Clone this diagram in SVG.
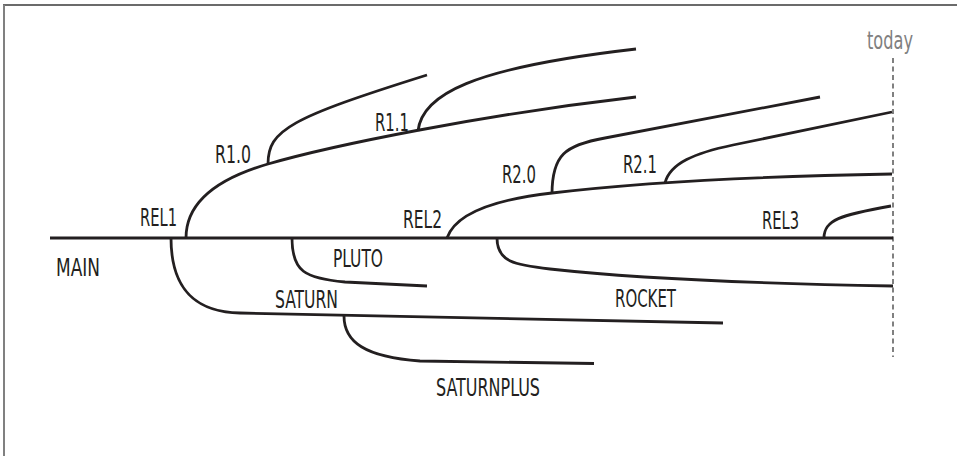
<svg xmlns="http://www.w3.org/2000/svg" width="957" height="456" viewBox="0 0 957 456">
  <style>
    .branch { fill: none; stroke: #231f20; stroke-width: 2.8; stroke-linecap: butt; }
    .lbl { font-family: "Liberation Sans Narrow", "DejaVu Sans Condensed", "Liberation Sans", sans-serif; font-size: 25px; fill: #231f20; }
    .today { font-family: "Liberation Sans Narrow", "DejaVu Sans Condensed", "Liberation Sans", sans-serif; font-size: 24px; fill: #808080; }
    .frame-top { stroke: #3a3a3a; stroke-width: 1.6; }
    .frame-left { stroke: #808080; stroke-width: 2; }
    .timeline { stroke: #808080; stroke-width: 2; stroke-dasharray: 5 3.5; fill: none; }
  </style>
  <rect width="957" height="456" fill="#ffffff"/>

  <!-- frame edges -->
  <line class="frame-top" x1="3" y1="5" x2="957" y2="5"/>
  <line class="frame-left" x1="4" y1="5" x2="4" y2="456"/>

  <!-- "today" marker -->
  <g id="today">
    <line class="timeline" x1="893" y1="58" x2="893" y2="357"/>
    <text class="today" x="867" y="49" textLength="46" lengthAdjust="spacingAndGlyphs">today</text>
  </g>

  <!-- branch lines -->
  <g id="connectors">
    <path id="main-line" class="branch" d="M50,238 H893"/>
    <path id="rel1-line" class="branch" d="M186,238 C186,210 206,182 268,164 C330,146 480,115 636,97"/>
    <path id="r10-line" class="branch" d="M268,164 C268,130 290,118 427,75"/>
    <path id="r11-line" class="branch" d="M418,131 C422,95 470,68 636,49"/>
    <path id="rel2-line" class="branch" d="M447,238 C455,215 490,200 552,193 C620,185 720,177 892,174"/>
    <path id="r20-line" class="branch" d="M552,194 C552,155 565,145 605,138 L820,97"/>
    <path id="r21-line" class="branch" d="M665,183 C670,163 695,153 733,145 L892,112"/>
    <path id="rel3-line" class="branch" d="M824,238 C824,220 840,215 891,206"/>
    <path id="saturn-line" class="branch" d="M171,238 C171,292 198,312 240,313 L723,323"/>
    <path id="pluto-line" class="branch" d="M292,238 C292,272 305,278 345,282 L427,286"/>
    <path id="rocket-line" class="branch" d="M497,238 C497,262 515,265 550,269 C650,280 780,284 893,286"/>
    <path id="saturnplus-line" class="branch" d="M344,316 C344,342 365,357 420,361 L594,363.5"/>
  </g>

  <!-- branch labels -->
  <g id="main"><text class="lbl" x="56" y="275.5" textLength="44" lengthAdjust="spacingAndGlyphs">MAIN</text></g>
  <g id="rel1"><text class="lbl" x="140" y="225.5" textLength="37" lengthAdjust="spacingAndGlyphs">REL1</text></g>
  <g id="r1-0"><text class="lbl" x="215" y="163" textLength="36" lengthAdjust="spacingAndGlyphs">R1.0</text></g>
  <g id="r1-1"><text class="lbl" x="375" y="131" textLength="34" lengthAdjust="spacingAndGlyphs">R1.1</text></g>
  <g id="rel2"><text class="lbl" x="403" y="228" textLength="39" lengthAdjust="spacingAndGlyphs">REL2</text></g>
  <g id="r2-0"><text class="lbl" x="502" y="183" textLength="34" lengthAdjust="spacingAndGlyphs">R2.0</text></g>
  <g id="r2-1"><text class="lbl" x="623" y="173" textLength="34" lengthAdjust="spacingAndGlyphs">R2.1</text></g>
  <g id="rel3"><text class="lbl" x="762" y="229" textLength="37" lengthAdjust="spacingAndGlyphs">REL3</text></g>
  <g id="pluto"><text class="lbl" x="333" y="267" textLength="50" lengthAdjust="spacingAndGlyphs">PLUTO</text></g>
  <g id="saturn"><text class="lbl" x="275" y="308" textLength="63" lengthAdjust="spacingAndGlyphs">SATURN</text></g>
  <g id="rocket"><text class="lbl" x="615" y="307" textLength="61" lengthAdjust="spacingAndGlyphs">ROCKET</text></g>
  <g id="saturnplus"><text class="lbl" x="436" y="396" textLength="104" lengthAdjust="spacingAndGlyphs">SATURNPLUS</text></g>
</svg>
